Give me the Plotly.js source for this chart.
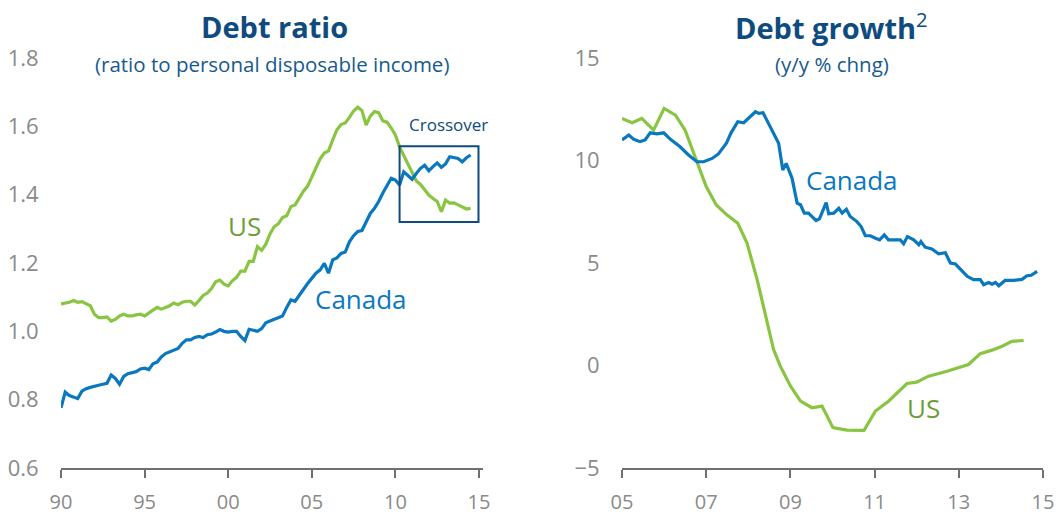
<!DOCTYPE html>
<html>
<head>
<meta charset="utf-8">
<script src="https://cdn.plot.ly/plotly-3.0.1.min.js"></script>
<style>
  html, body { margin: 0; padding: 0; background: #fff; }
  #chart { width: 1057px; height: 514px; }
</style>
</head>
<body>
<div id="chart"></div>
<script>
// Debt ratio (ratio to personal disposable income), quarterly
const ratioYears = [
  1990.0, 1990.25, 1990.5, 1990.75, 1991.0, 1991.25, 1991.5, 1991.75,
  1992.0, 1992.25, 1992.5, 1992.75, 1993.0, 1993.25, 1993.5, 1993.75,
  1994.0, 1994.25, 1994.5, 1994.75, 1995.0, 1995.25, 1995.5, 1995.75,
  1996.0, 1996.25, 1996.5, 1996.75, 1997.0, 1997.25, 1997.5, 1997.75,
  1998.0, 1998.25, 1998.5, 1998.75, 1999.0, 1999.25, 1999.5, 1999.75,
  2000.0, 2000.25, 2000.5, 2000.75, 2001.0, 2001.25, 2001.5, 2001.75,
  2002.0, 2002.25, 2002.5, 2002.75, 2003.0, 2003.25, 2003.5, 2003.75,
  2004.0, 2004.25, 2004.5, 2004.75, 2005.0, 2005.25, 2005.5, 2005.75,
  2006.0, 2006.25, 2006.5, 2006.75, 2007.0, 2007.25, 2007.5, 2007.75,
  2008.0, 2008.25, 2008.5, 2008.75, 2009.0, 2009.25, 2009.5, 2009.75,
  2010.0, 2010.25, 2010.5, 2010.75, 2011.0, 2011.25, 2011.5, 2011.75,
  2012.0, 2012.25, 2012.5, 2012.75, 2013.0, 2013.25, 2013.5, 2013.75,
  2014.0, 2014.25, 2014.5
];
const ratioUS = [
  1.080, 1.082, 1.085, 1.090, 1.085, 1.087, 1.080, 1.075,
  1.050, 1.040, 1.040, 1.042, 1.030, 1.035, 1.045, 1.050,
  1.045, 1.045, 1.048, 1.050, 1.045, 1.055, 1.062, 1.070,
  1.065, 1.070, 1.075, 1.083, 1.078, 1.085, 1.088, 1.088,
  1.077, 1.090, 1.105, 1.112, 1.125, 1.145, 1.150, 1.138,
  1.133, 1.148, 1.158, 1.176, 1.176, 1.205, 1.205, 1.248,
  1.237, 1.255, 1.285, 1.306, 1.315, 1.333, 1.338, 1.365,
  1.370, 1.390, 1.410, 1.425, 1.450, 1.475, 1.505, 1.522,
  1.528, 1.560, 1.590, 1.605, 1.610, 1.626, 1.645, 1.656,
  1.646, 1.604, 1.630, 1.643, 1.640, 1.616, 1.612, 1.595,
  1.575, 1.540, 1.515, 1.490, 1.460, 1.440, 1.430, 1.414,
  1.399, 1.389, 1.380, 1.350, 1.384, 1.375, 1.376, 1.370,
  1.365, 1.358, 1.360
];
const ratioCanada = [
  0.776, 0.822, 0.812, 0.808, 0.803, 0.825, 0.832, 0.836,
  0.838, 0.842, 0.845, 0.848, 0.872, 0.862, 0.845, 0.868,
  0.876, 0.878, 0.882, 0.890, 0.892, 0.888, 0.905, 0.910,
  0.925, 0.935, 0.940, 0.947, 0.950, 0.965, 0.975, 0.975,
  0.982, 0.985, 0.982, 0.990, 0.992, 0.998, 1.005, 1.000,
  0.998, 1.000, 1.000, 0.985, 0.973, 1.006, 1.003, 1.000,
  1.008, 1.025, 1.030, 1.035, 1.042, 1.045, 1.070, 1.092,
  1.088, 1.105, 1.125, 1.140, 1.155, 1.170, 1.180, 1.199,
  1.170, 1.209, 1.215, 1.228, 1.232, 1.262, 1.280, 1.292,
  1.295, 1.318, 1.345, 1.360, 1.380, 1.405, 1.428, 1.448,
  1.443, 1.428, 1.467, 1.455, 1.445, 1.462, 1.477, 1.486,
  1.470, 1.482, 1.493, 1.480, 1.490, 1.511, 1.508, 1.506,
  1.496, 1.508, 1.516
];

// Debt growth (y/y % chng)
const growthCanadaYears = [
  2005.00, 2005.16, 2005.28, 2005.43, 2005.55, 2005.67, 2005.83, 2005.99,
  2006.15, 2006.38, 2006.58, 2006.78, 2006.94, 2007.14, 2007.29, 2007.48,
  2007.59, 2007.75, 2007.89, 2008.05, 2008.17, 2008.25, 2008.35, 2008.44,
  2008.60, 2008.72, 2008.82, 2008.90, 2009.04, 2009.16, 2009.24, 2009.33,
  2009.43, 2009.61, 2009.69, 2009.77, 2009.85, 2009.91, 2010.03, 2010.15,
  2010.23, 2010.33, 2010.42, 2010.58, 2010.68, 2010.78, 2010.90, 2011.02,
  2011.12, 2011.23, 2011.33, 2011.45, 2011.61, 2011.69, 2011.78, 2011.93,
  2012.05, 2012.10, 2012.20, 2012.36, 2012.52, 2012.68, 2012.80, 2012.92,
  2013.04, 2013.20, 2013.35, 2013.51, 2013.59, 2013.71, 2013.79, 2013.87,
  2013.95, 2014.10, 2014.30, 2014.50, 2014.62, 2014.72, 2014.86
];
const growthCanada = [
  11.00, 11.24, 11.03, 10.92, 11.00, 11.35, 11.30, 11.35,
  11.03, 10.67, 10.27, 9.94, 9.94, 10.10, 10.32, 10.84,
  11.35, 11.89, 11.84, 12.13, 12.38, 12.30, 12.33, 11.97,
  11.32, 10.84, 9.54, 9.86, 9.13, 7.92, 7.84, 7.43,
  7.43, 7.07, 7.15, 7.56, 7.95, 7.40, 7.43, 7.67,
  7.43, 7.62, 7.27, 7.02, 6.78, 6.33, 6.33, 6.21,
  6.13, 6.37, 6.13, 6.13, 6.13, 5.94, 6.29, 6.13,
  5.89, 6.05, 5.77, 5.68, 5.45, 5.50, 5.00, 4.95,
  4.67, 4.35, 4.19, 4.19, 3.94, 4.05, 3.97, 4.05,
  3.89, 4.15, 4.15, 4.20, 4.38, 4.40, 4.59
];
const growthUSYears = [
  2005.00, 2005.24, 2005.47, 2005.75, 2006.00, 2006.27, 2006.50, 2006.74,
  2007.00, 2007.24, 2007.49, 2007.75, 2007.97, 2008.21, 2008.44, 2008.60,
  2008.76, 2009.00, 2009.24, 2009.51, 2009.75, 2010.01, 2010.34, 2010.75,
  2011.02, 2011.33, 2011.77, 2012.00, 2012.28, 2012.72, 2013.23, 2013.51,
  2013.79, 2014.03, 2014.26, 2014.54
];
const growthUS = [
  12.05, 11.84, 12.05, 11.48, 12.54, 12.21, 11.48, 10.19,
  8.73, 7.83, 7.35, 6.94, 5.97, 4.19, 2.08, 0.78,
  -0.03, -1.00, -1.74, -2.06, -1.98, -3.03, -3.15, -3.16,
  -2.22, -1.74, -0.88, -0.81, -0.52, -0.28, 0.05, 0.58,
  0.75, 0.94, 1.18, 1.22
];

const ratioTicks = [1990, 1995, 2000, 2005, 2010, 2015];
const ratioTickText = ['90', '95', '00', '05', '10', '15'];
const growthTicks = [2005, 2007, 2009, 2011, 2013, 2015];
const growthTickText = ['05', '07', '09', '11', '13', '15'];

const BLUE = '#0a78bf';
const GREEN = '#88c540';
const NAVY = '#0e4b7e';
const GREY = '#8a8a8a';
const FONT = 'Open Sans, sans-serif';

const H = 514, W = 1057;
const yDomain = [46 / H, 456 / H];

const traces = [
  { x: ratioYears, y: ratioUS, xaxis: 'x', yaxis: 'y', mode: 'lines',
    line: { color: GREEN, width: 3.2 }, hoverinfo: 'skip' },
  { x: ratioYears, y: ratioCanada, xaxis: 'x', yaxis: 'y', mode: 'lines',
    line: { color: BLUE, width: 3.2 }, hoverinfo: 'skip' },
  { x: growthUSYears, y: growthUS, xaxis: 'x2', yaxis: 'y2', mode: 'lines',
    line: { color: GREEN, width: 3.2 }, hoverinfo: 'skip' },
  { x: growthCanadaYears, y: growthCanada, xaxis: 'x2', yaxis: 'y2', mode: 'lines',
    line: { color: BLUE, width: 3.2 }, hoverinfo: 'skip' }
];

function xAxis(domain, range, vals, text, anchor) {
  return {
    domain: domain, range: range, anchor: anchor,
    tickvals: vals, ticktext: text,
    showgrid: false, zeroline: false,
    showline: true, linecolor: '#707070', linewidth: 2,
    ticks: 'outside', ticklen: 8, tickwidth: 2, tickcolor: '#707070',
    ticklabelstandoff: 7,
    tickfont: { family: FONT, size: 20, color: GREY }
  };
}
function yAxis(range, dtick, anchor) {
  return {
    domain: yDomain, range: range, anchor: anchor, dtick: dtick,
    showgrid: false, zeroline: false, showline: false,
    ticks: 'outside', ticklen: 17, tickcolor: 'rgba(0,0,0,0)',
    tickformat: dtick < 1 ? '.1f' : '',
    tickfont: { family: FONT, size: 22, color: GREY }
  };
}

function note(text, xref, yref, x, y, size, color) {
  return { text: text, xref: xref, yref: yref, x: x, y: y,
    xanchor: 'center', yanchor: 'middle', showarrow: false,
    font: { family: FONT, size: size, color: color } };
}

const layout = {
  width: W, height: H,
  margin: { l: 0, r: 0, t: 0, b: 0 },
  paper_bgcolor: '#fff', plot_bgcolor: '#fff',
  showlegend: false,
  xaxis: xAxis([61 / W, 483 / W], [1990, 2015.24], ratioTicks, ratioTickText, 'y'),
  yaxis: yAxis([0.6, 1.8], 0.2, 'x'),
  xaxis2: xAxis([622 / W, 1043 / W], [2005, 2015], growthTicks, growthTickText, 'y2'),
  yaxis2: yAxis([-5, 15], 5, 'x2'),
  shapes: [
    { type: 'rect', xref: 'x', yref: 'y', x0: 2010.25, x1: 2014.97, y0: 1.32, y1: 1.542,
      line: { color: NAVY, width: 2 } }
  ],
  annotations: [
    note('<b>Debt ratio</b>', 'paper', 'paper', 274 / W, 1 - 26 / H, 29, NAVY),
    note('(ratio to personal disposable income)', 'paper', 'paper', 272 / W, 1 - 64 / H, 20.5, '#165a8c'),
    note('<b>Debt growth</b><sup>2</sup>', 'paper', 'paper', 831 / W, 1 - 26 / H, 29, NAVY),
    note('(y/y % chng)', 'paper', 'paper', 832 / W, 1 - 64 / H, 20.5, '#165a8c'),
    note('US', 'x', 'y', 2001.0, 1.308, 26, '#6c9e3a'),
    note('Canada', 'x', 'y', 2007.94, 1.095, 26, BLUE),
    note('Crossover', 'x', 'y', 2013.15, 1.604, 17, NAVY),
    note('Canada', 'x2', 'y2', 2010.46, 9.07, 26, BLUE),
    note('US', 'x2', 'y2', 2012.17, -2.05, 26, '#6c9e3a')
  ]
};

Plotly.newPlot('chart', traces, layout, { staticPlot: true, displayModeBar: false });
</script>
</body>
</html>
